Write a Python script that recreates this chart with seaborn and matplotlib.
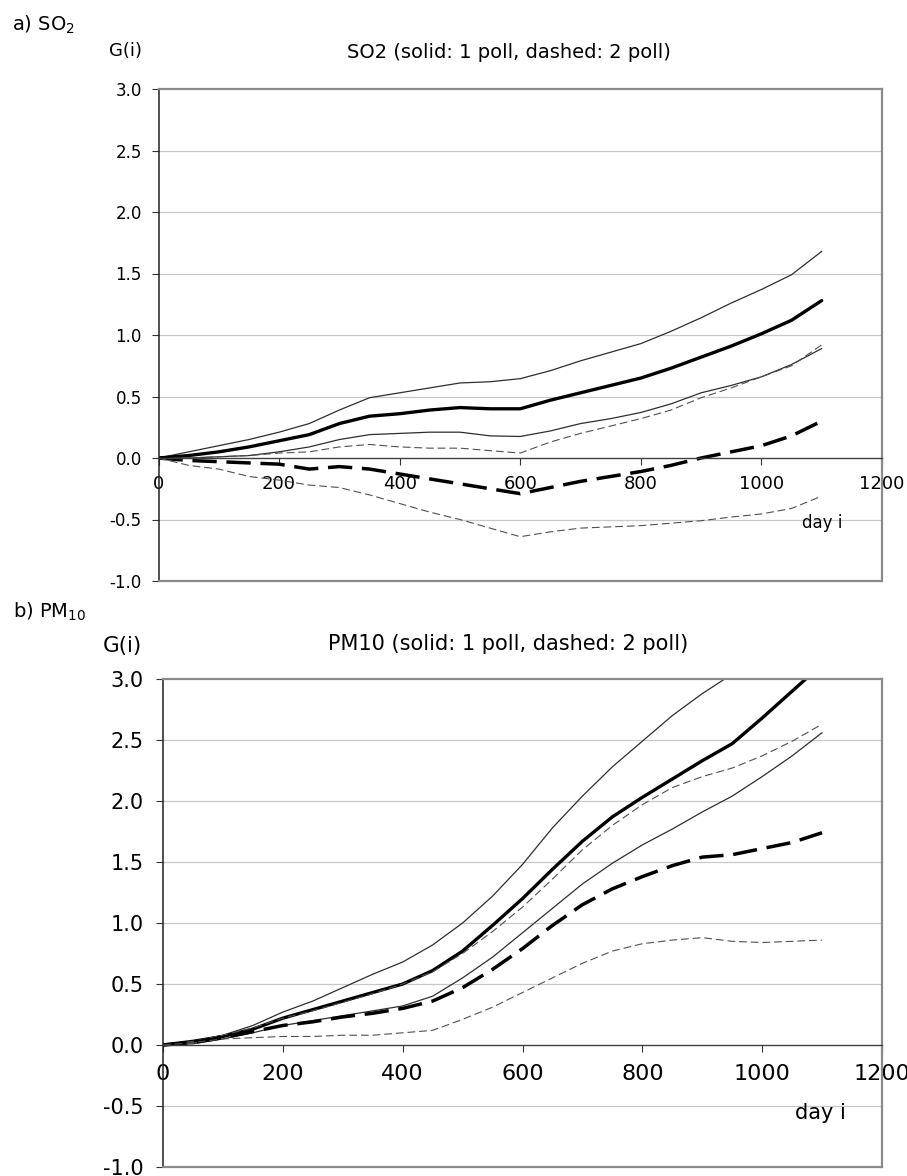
import numpy as np
import pandas as pd
import matplotlib
matplotlib.use("Agg")
import matplotlib.pyplot as plt
import seaborn as sns

# day index (every 50 days)
days = list(range(0, 1101, 50))

# SO2 panel
so2_1p_upper = [0, 0.05, 0.10, 0.15, 0.21, 0.28, 0.39, 0.49, 0.53, 0.57, 0.61, 0.62,
                0.645, 0.71, 0.79, 0.86, 0.93, 1.03, 1.14, 1.26, 1.37, 1.49, 1.68]
so2_1p = [0, 0.02, 0.05, 0.09, 0.14, 0.19, 0.28, 0.34, 0.36, 0.39, 0.41, 0.40,
          0.40, 0.47, 0.53, 0.59, 0.65, 0.73, 0.82, 0.91, 1.01, 1.12, 1.28]
so2_1p_lower = [0, 0.00, 0.01, 0.02, 0.05, 0.09, 0.15, 0.19, 0.20, 0.21, 0.21, 0.18,
                0.175, 0.22, 0.28, 0.32, 0.37, 0.44, 0.53, 0.59, 0.66, 0.76, 0.89]
so2_2p_upper = [0, 0.00, 0.01, 0.02, 0.04, 0.05, 0.09, 0.11, 0.09, 0.08, 0.08, 0.06,
                0.04, 0.13, 0.20, 0.26, 0.32, 0.39, 0.49, 0.57, 0.66, 0.75, 0.92]
so2_2p = [0, -0.02, -0.03, -0.04, -0.05, -0.09, -0.07, -0.09, -0.13, -0.17, -0.21, -0.25,
          -0.29, -0.24, -0.19, -0.15, -0.11, -0.06, 0.00, 0.05, 0.10, 0.18, 0.30]
so2_2p_lower = [0, -0.06, -0.09, -0.15, -0.18, -0.22, -0.24, -0.30, -0.37, -0.44, -0.50, -0.57,
                -0.64, -0.60, -0.57, -0.56, -0.55, -0.53, -0.51, -0.48, -0.455, -0.41, -0.31]

# PM10 panel
pm_1p_upper = [0, 0.03, 0.08, 0.16, 0.27, 0.36, 0.47, 0.58, 0.68, 0.82, 1.00, 1.22,
               1.48, 1.78, 2.04, 2.28, 2.49, 2.70, 2.88, 3.04, 3.18, np.nan, np.nan]
pm_1p = [0, 0.03, 0.07, 0.13, 0.22, 0.29, 0.36, 0.43, 0.50, 0.61, 0.77, 0.98,
         1.20, 1.44, 1.67, 1.87, 2.03, 2.18, 2.33, 2.47, 2.68, 2.90, 3.12]
pm_1p_lower = [0, 0.01, 0.05, 0.10, 0.16, 0.20, 0.24, 0.28, 0.32, 0.40, 0.55, 0.72,
               0.92, 1.12, 1.32, 1.49, 1.64, 1.77, 1.91, 2.04, 2.20, 2.37, 2.56]
pm_2p_upper = [0, 0.03, 0.08, 0.14, 0.22, 0.28, 0.35, 0.42, 0.50, 0.60, 0.75, 0.93,
               1.13, 1.36, 1.60, 1.80, 1.97, 2.11, 2.20, 2.27, 2.37, 2.49, 2.63]
pm_2p = [0, 0.02, 0.06, 0.11, 0.16, 0.19, 0.23, 0.26, 0.30, 0.36, 0.47, 0.62,
         0.79, 0.98, 1.15, 1.28, 1.38, 1.47, 1.54, 1.56, 1.61, 1.66, 1.74]
pm_2p_lower = [0, 0.02, 0.05, 0.06, 0.07, 0.07, 0.08, 0.08, 0.10, 0.12, 0.21, 0.31,
               0.43, 0.55, 0.67, 0.77, 0.83, 0.86, 0.88, 0.85, 0.84, 0.85, 0.86]

x_ticks = [0, 200, 400, 600, 800, 1000, 1200]
y_ticks = [-1.0, -0.5, 0.0, 0.5, 1.0, 1.5, 2.0, 2.5, 3.0]

sns.set_style("white")
plt.rcParams['font.family'] = ['DejaVu Sans']
plt.rcParams['mathtext.fontset'] = 'dejavusans'
plt.rcParams['text.color'] = 'black'
plt.rcParams['xtick.color'] = 'black'
plt.rcParams['ytick.color'] = 'black'
plt.rcParams['xtick.labelcolor'] = 'black'
plt.rcParams['ytick.labelcolor'] = 'black'

W, H = 907, 1176
fig = plt.figure(figsize=(W / 100, H / 100), dpi=100)

THIN_SOLID = dict(color="#2e2e2e", linewidth=0.9, linestyle="-")
THICK_SOLID = dict(color="black", linewidth=2.4, linestyle="-")
THIN_DASH = dict(color="#505050", linewidth=0.8, linestyle=(0, (7, 3.5)))
THICK_DASH = dict(color="black", linewidth=2.5, linestyle=(0, (7, 2.8)))


def draw_panel(rect, series, tick_fs, xtick_fs, ypad, xpad):
    ax = fig.add_axes(rect)
    for vals, style in series:
        df = pd.DataFrame({"day": days, "G": vals})
        sns.lineplot(data=df, x="day", y="G", ax=ax, **style)
    ax.set_xlim(0, 1200)
    ax.set_ylim(-1.0, 3.0)
    ax.set_xticks(x_ticks)
    ax.set_xticklabels([str(t) for t in x_ticks])
    ax.set_yticks(y_ticks)
    ax.set_yticklabels([f"{t:.1f}" for t in y_ticks])
    ax.set_xlabel("")
    ax.set_ylabel("")
    # horizontal grid only
    for yv in [-0.5, 0.5, 1.0, 1.5, 2.0, 2.5]:
        ax.axhline(yv, color="#c8c8c8", linewidth=0.9, zorder=0)
    ax.axhline(-1.0, color="#8a8a8a", linewidth=1.6, clip_on=False, zorder=3)
    ax.spines['bottom'].set_position(('data', 0))
    ax.spines['bottom'].set_color("#404040")
    ax.spines['bottom'].set_linewidth(1.0)
    ax.spines['left'].set_color("#222222")
    ax.spines['left'].set_linewidth(1.1)
    for s in ['top', 'right']:
        ax.spines[s].set_color("#8a8a8a")
        ax.spines[s].set_linewidth(1.6)
    ax.tick_params(axis='y', direction='out', length=5, width=0.8, pad=ypad,
                   labelsize=tick_fs, left=True, color="#333333")
    ax.tick_params(axis='x', direction='out', length=5, width=0.8, pad=xpad,
                   labelsize=xtick_fs, bottom=True, color="#333333")
    ax.legend_ = None
    return ax


ax1 = draw_panel([158.5 / W, 1 - 581 / H, (882 - 158.5) / W, (581 - 89) / H],
                 [(so2_1p_upper, THIN_SOLID), (so2_1p, THICK_SOLID), (so2_1p_lower, THIN_SOLID),
                  (so2_2p_upper, THIN_DASH), (so2_2p, THICK_DASH), (so2_2p_lower, THIN_DASH)],
                 12, 13, 7, 7)
ax1.text(1100, -0.53, "day i", fontsize=12, ha="center", va="center")

ax2 = draw_panel([163 / W, 1 - 1167 / H, (882 - 163) / W, (1167 - 679) / H],
                 [(pm_1p_upper, THIN_SOLID), (pm_1p, THICK_SOLID), (pm_1p_lower, THIN_SOLID),
                  (pm_2p_upper, THIN_DASH), (pm_2p, THICK_DASH), (pm_2p_lower, THIN_DASH)],
                 15, 16, 9, 9)
ax2.text(1098, -0.56, "day i", fontsize=15, ha="center", va="center")

fig.text(12 / W, 1 - 31 / H, r"a) SO$_2$", fontsize=14, ha="left", va="baseline")
fig.text(126 / W, 1 - 56 / H, "G(i)", fontsize=13, ha="center", va="baseline")
fig.text(509 / W, 1 - 58 / H, "SO2 (solid: 1 poll, dashed: 2 poll)", fontsize=14,
         ha="center", va="baseline")

fig.text(13 / W, 1 - 618 / H, r"b) PM$_{10}$", fontsize=14, ha="left", va="baseline")
fig.text(122 / W, 1 - 652 / H, "G(i)", fontsize=15.5, ha="center", va="baseline")
fig.text(508 / W, 1 - 650 / H, "PM10 (solid: 1 poll, dashed: 2 poll)", fontsize=15,
         ha="center", va="baseline")

fig.savefig("out.png", dpi=100)
